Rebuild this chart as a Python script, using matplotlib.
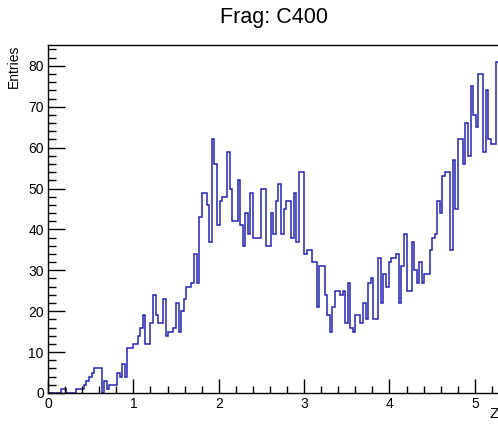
import numpy as np
import matplotlib
matplotlib.use("Agg")
import matplotlib.pyplot as plt
from matplotlib.ticker import MultipleLocator

plt.rcParams["font.family"] = ["Liberation Sans", "DejaVu Sans"]

# histogram of Z, bin width 0.03 starting at 0
bin_width = 0.03
counts = [
    0, 0, 0, 0, 0, 1, 1, 0, 0, 0,
    0, 1, 1, 1, 2, 3, 4, 5, 6, 6,
    6, 0, 3, 1, 2, 2, 2, 5, 4, 7,
    4, 11, 11, 12, 12, 14, 16, 19, 12, 12,
    17, 24, 19, 17, 17, 23, 14, 15, 15, 16,
    22, 15, 20, 23, 26, 26, 27, 34, 27, 43,
    49, 49, 46, 37, 62, 56, 41, 47, 48, 48,
    59, 50, 42, 42, 52, 41, 36, 44, 39, 49,
    38, 38, 38, 50, 50, 36, 36, 44, 39, 47,
    51, 39, 45, 47, 47, 38, 49, 37, 54, 54,
    34, 35, 35, 32, 32, 21, 31, 31, 24, 19,
    15, 21, 25, 25, 24, 25, 17, 27, 16, 15,
    19, 19, 17, 22, 18, 27, 28, 18, 18, 33,
    22, 29, 26, 32, 33, 33, 34, 22, 31, 39,
    25, 25, 37, 30, 27, 32, 27, 29, 29, 35,
    38, 39, 47, 44, 53, 54, 54, 35, 57, 45,
    62, 62, 56, 66, 58, 75, 68, 65, 78, 78,
    59, 74, 62, 61, 61, 81, 81,
]
edges = np.arange(len(counts) + 1) * bin_width

fig = plt.figure(figsize=(4.98, 4.25), dpi=100)
# frame runs past the right edge of the picture, like the cropped original
ax = fig.add_axes([48 / 498, 32 / 425, 455 / 498, 348 / 425])

ax.stairs(counts, edges, color="#2424b0", linewidth=1.1, baseline=0)

ax.set_xlim(0, 5.33)
ax.set_ylim(0, 85.1)

ax.xaxis.set_major_locator(MultipleLocator(1))
ax.xaxis.set_minor_locator(MultipleLocator(0.2))
ax.yaxis.set_major_locator(MultipleLocator(10))
ax.yaxis.set_minor_locator(MultipleLocator(2))
ax.tick_params(which="both", direction="in", top=False, right=False,
               labelsize=10, colors="black", width=1)
ax.tick_params(axis="y", which="major", length=12, pad=3)
ax.tick_params(axis="y", which="minor", length=6)
ax.tick_params(axis="x", which="major", length=10, pad=3)
ax.tick_params(axis="x", which="minor", length=5)
for s in ax.spines.values():
    s.set_linewidth(1.0)

fig.text(274 / 498, 1 - 18 / 425, "Frag: C400", ha="center", va="center",
         fontsize=15.5)
fig.text(14 / 498, 1 - 45 / 425, "Entries", rotation=90, ha="center",
         va="top", fontsize=10)
fig.text(489 / 498, 1 - 414 / 425, "Z", ha="left", va="center", fontsize=11)

fig.savefig("out.png", dpi=100)
